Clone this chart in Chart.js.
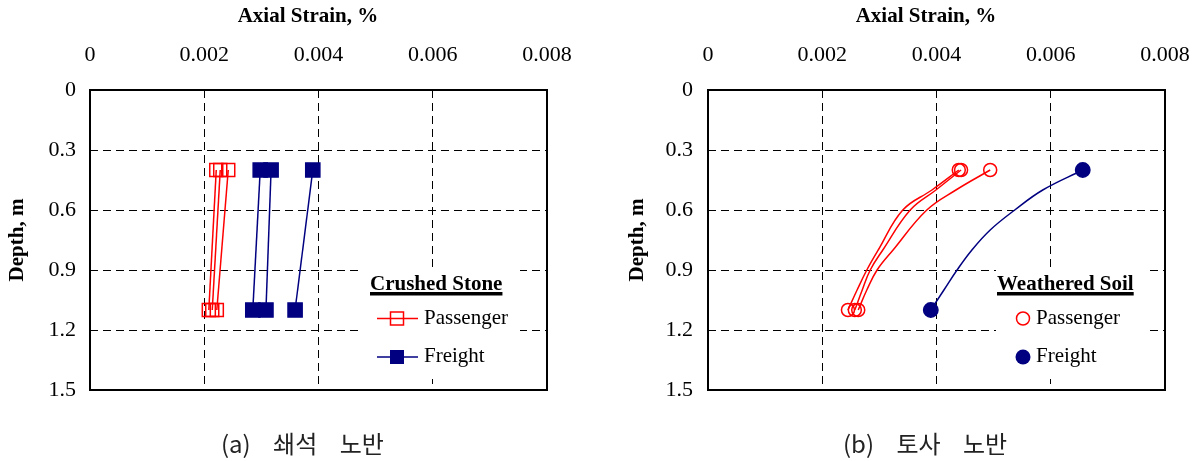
<!DOCTYPE html>
<html>
<head>
<meta charset="utf-8">
<script src="https://cdn.jsdelivr.net/npm/chart.js@4.4.1/dist/chart.umd.min.js"></script>
<style>
  html, body { margin: 0; padding: 0; background: #fff; }
  #wrap { position: relative; width: 1197px; height: 461px; overflow: hidden; }
  canvas { position: absolute; top: 0; }
  .cap { position: absolute; top: 427px; font-family: "Noto Sans CJK KR", sans-serif; font-size: 24px; color: #222; white-space: pre; word-spacing: 17px; line-height: 32px; }
</style>
</head>
<body>
<div id="wrap">
  <canvas id="cL" width="598" height="461" style="left:0px"></canvas>
  <canvas id="cR" width="599" height="461" style="left:598px"></canvas>
  <div class="cap" style="left:221px">(a) 쇄석 노반</div>
  <div class="cap" style="left:843px">(b) 토사 노반</div>
</div>
<script>
// ---------- tick values / labels ----------
const strainTicks = [0, 0.002, 0.004, 0.006, 0.008];
const strainTickLabels = ['0', '0.002', '0.004', '0.006', '0.008'];
const depthTicks = [0, 0.3, 0.6, 0.9, 1.2, 1.5];
const depthTickLabels = ['0', '0.3', '0.6', '0.9', '1.2', '1.5'];

// ---------- (a) crushed stone ----------
const csDepths = [0.4, 1.1];
const csPassengerA = [0.00221, 0.00208];
const csPassengerB = [0.00228, 0.00214];
const csPassengerC = [0.00242, 0.00222];
const csFreightA = [0.00298, 0.00285];
const csFreightB = [0.00317, 0.00308];
const csFreightC = [0.00390, 0.00359];

// ---------- (b) weathered soil ----------
const wsPassengerDepths = [0.4, 0.5, 0.6, 0.8, 0.9, 1.0, 1.1];
const wsPassengerA = [0.00439, 0.00392, 0.00341, 0.00298, 0.00278, 0.00261, 0.00245];
const wsPassengerB = [0.00443, 0.00399, 0.00354, 0.00306, 0.00284, 0.00270, 0.00257];
const wsPassengerC = [0.00494, 0.00434, 0.00383, 0.00324, 0.00296, 0.00278, 0.00263];
const wsFreightDepths = [0.4, 0.5, 0.6, 0.7, 0.8, 0.9, 1.0, 1.1];
const wsFreight = [0.00656, 0.00586, 0.00537, 0.00494, 0.00462, 0.00436, 0.00413, 0.00390];

// ---------- texts ----------
const xTitle = 'Axial Strain, %';
const yTitle = 'Depth, m';
const legendTitleL = 'Crushed Stone';
const legendTitleR = 'Weathered Soil';
const legendLabels = ['Passenger', 'Freight'];

const RED = '#ff0000';
const NAVY = '#000080';
const SERIF = '"Liberation Serif", "Times New Roman", serif';

function pts(xs, ys) { return xs.map((x, i) => ({ x: x, y: ys[i] })); }
function endsOnly(r) {
  return (ctx) => {
    const n = ctx.dataset.data.length;
    return (ctx.dataIndex === 0 || ctx.dataIndex === n - 1) ? r : 0;
  };
}

function makeScales(plotLeft, plotTop, yTitlePad, yTickPad) {
  return {
    x: {
      type: 'linear', position: 'top', min: 0, max: 0.008,
      afterBuildTicks: (s) => { s.ticks = strainTicks.map(v => ({ value: v })); },
      afterFit: (s) => { s.height = plotTop; s.paddingLeft = 0; s.paddingRight = 26; },
      ticks: {
        callback: (v) => strainTickLabels[strainTicks.indexOf(v)],
        font: { family: SERIF, size: 22 }, color: '#000',
        padding: 22, maxRotation: 0, autoSkip: false
      },
      grid: { color: '#000', lineWidth: 1, drawTicks: false },
      border: { display: false, dash: [8, 5] },
      title: {
        display: true, text: xTitle + '\u2003', color: '#000',
        font: { family: SERIF, size: 21, weight: 'bold' },
        padding: { top: 4, bottom: 0 }
      }
    },
    y: {
      type: 'linear', position: 'left', reverse: true, min: 0, max: 1.5,
      afterBuildTicks: (s) => { s.ticks = depthTicks.map(v => ({ value: v })); },
      afterFit: (s) => { s.width = plotLeft; },
      ticks: {
        callback: (v) => depthTickLabels[depthTicks.indexOf(v)],
        font: { family: SERIF, size: 22 }, color: '#000',
        padding: yTickPad, autoSkip: false
      },
      grid: { color: '#000', lineWidth: 1, drawTicks: false },
      border: { display: false, dash: [8, 5] },
      title: {
        display: true, text: yTitle, color: '#000',
        font: { family: SERIF, size: 21, weight: 'bold' },
        padding: { top: yTitlePad, bottom: 0 }
      }
    }
  };
}

const framePlugin = {
  id: 'frame',
  beforeDatasetsDraw(chart) {
    const a = chart.chartArea, ctx = chart.ctx;
    ctx.save();
    ctx.strokeStyle = '#000';
    ctx.lineWidth = 2;
    ctx.strokeRect(a.left, a.top, a.right - a.left, a.bottom - a.top);
    ctx.restore();
  }
};

function legendPlugin(cfg) {
  return {
    id: 'customLegend',
    afterDraw(chart) {
      const ctx = chart.ctx;
      ctx.save();
      ctx.fillStyle = '#fff';
      ctx.fillRect(cfg.box[0], cfg.box[1], cfg.box[2], cfg.box[3]);
      ctx.fillStyle = '#000';
      ctx.textBaseline = 'alphabetic';
      ctx.textAlign = 'left';
      ctx.font = 'bold 21px ' + SERIF;
      ctx.fillText(cfg.title, cfg.titleX, 290);
      const w = ctx.measureText(cfg.title).width;
      ctx.fillRect(cfg.titleX, 292, w, 3.5);
      ctx.font = '21px ' + SERIF;
      const rows = [{ y: 318.5, base: 323.5, color: RED, fill: false }, { y: 357, base: 362, color: NAVY, fill: true }];
      rows.forEach((r, i) => {
        ctx.strokeStyle = r.color;
        ctx.fillStyle = r.color;
        ctx.lineWidth = 1.5;
        if (cfg.square) {
          ctx.beginPath();
          ctx.moveTo(cfg.symX - 20, r.y);
          ctx.lineTo(cfg.symX + 21, r.y);
          ctx.stroke();
          if (r.fill) ctx.fillRect(cfg.symX - 7, r.y - 7, 14, 14);
          else ctx.strokeRect(cfg.symX - 6.5, r.y - 6.5, 13, 13);
        } else {
          ctx.beginPath();
          ctx.arc(cfg.symX, r.y, r.fill ? 7.5 : 6.5, 0, Math.PI * 2);
          if (r.fill) ctx.fill(); else ctx.stroke();
        }
        ctx.fillStyle = '#000';
        ctx.fillText(legendLabels[i], cfg.textX, r.base);
      });
      ctx.restore();
    }
  };
}

function lineDs(xs, ys, color, style, r, filled, tension) {
  return {
    data: pts(xs, ys),
    showLine: true,
    borderColor: color,
    borderWidth: 1.5,
    tension: tension,
    pointStyle: style,
    pointRadius: endsOnly(r),
    pointHoverRadius: endsOnly(r),
    pointBorderColor: color,
    pointBorderWidth: 1.5,
    pointBackgroundColor: filled ? color : 'rgba(0,0,0,0)'
  };
}

// Left chart
new Chart(document.getElementById('cL'), {
  type: 'scatter',
  data: {
    datasets: [
      lineDs(csPassengerA, csDepths, RED, 'rect', 9.2, false, 0),
      lineDs(csPassengerB, csDepths, RED, 'rect', 9.2, false, 0),
      lineDs(csPassengerC, csDepths, RED, 'rect', 9.2, false, 0),
      lineDs(csFreightA, csDepths, NAVY, 'rect', 10, true, 0),
      lineDs(csFreightB, csDepths, NAVY, 'rect', 10, true, 0),
      lineDs(csFreightC, csDepths, NAVY, 'rect', 10, true, 0)
    ]
  },
  options: {
    responsive: false, animation: false, devicePixelRatio: 1,
    layout: { padding: { left: 0, top: 0, right: 51, bottom: 71 } },
    plugins: { legend: { display: false }, tooltip: { enabled: false } },
    scales: makeScales(90, 90, 5, 14)
  },
  plugins: [framePlugin, legendPlugin({
    box: [362, 267, 158, 112], title: legendTitleL, titleX: 370,
    symX: 397, textX: 424, square: true
  })]
});

// Right chart
new Chart(document.getElementById('cR'), {
  type: 'scatter',
  data: {
    datasets: [
      lineDs(wsPassengerA, wsPassengerDepths, RED, 'circle', 6.5, false, 0.4),
      lineDs(wsPassengerB, wsPassengerDepths, RED, 'circle', 6.5, false, 0.4),
      lineDs(wsPassengerC, wsPassengerDepths, RED, 'circle', 6.5, false, 0.4),
      lineDs(wsFreight, wsFreightDepths, NAVY, 'circle', 7.2, true, 0.4)
    ]
  },
  options: {
    responsive: false, animation: false, devicePixelRatio: 1,
    layout: { padding: { left: 0, top: 0, right: 32, bottom: 71 } },
    plugins: { legend: { display: false }, tooltip: { enabled: false } },
    scales: makeScales(110, 90, 27, 15)
  },
  plugins: [framePlugin, legendPlugin({
    box: [996 - 598, 267, 152, 112], title: legendTitleR, titleX: 997 - 598,
    symX: 1023 - 598, textX: 1036 - 598, square: false
  })]
});
</script>
</body>
</html>
